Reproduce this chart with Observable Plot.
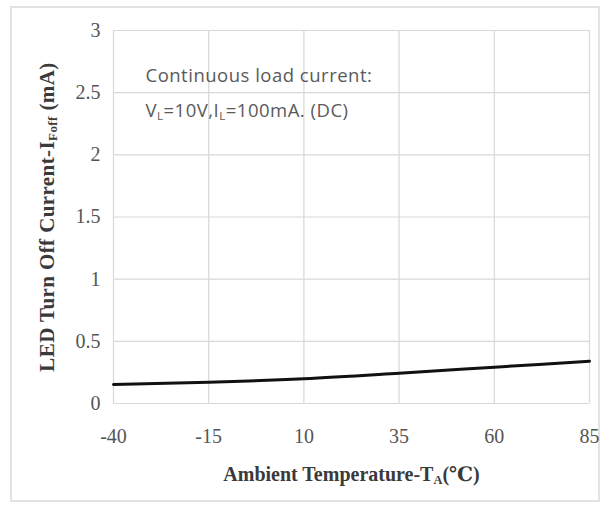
<!DOCTYPE html>
<html>
<head>
<meta charset="utf-8">
<script src="https://cdn.jsdelivr.net/npm/d3@7"></script>
<script src="https://cdn.jsdelivr.net/npm/@observablehq/plot@0.6"></script>
<style>
  html, body { margin: 0; padding: 0; background: #fff; }
  #wrap { position: relative; width: 609px; height: 515px; }
  #border { position: absolute; left: 10px; top: 6px; width: 586px; height: 492px; border: 2px solid #e3e3e3; box-sizing: content-box; }
  #chart { position: absolute; left: 0; top: 0; }
  g.note text { letter-spacing: 0.5px; }
  g.ylab text { letter-spacing: 0.4px; }
</style>
</head>
<body>
<div id="wrap"><div id="border"></div><div id="chart"></div></div>
<script>
// Data
const temperatures = [-40, -15, 10, 35, 60, 85];
const turnOffCurrent = [0.153, 0.171, 0.200, 0.244, 0.292, 0.340];
const xTicks = [-40, -15, 10, 35, 60, 85];
const yTicks = [0, 0.5, 1, 1.5, 2, 2.5, 3];
const noteLines = ["Continuous load current:", "V_L=10V,I_L=100mA. (DC)"];
const noteX = [-31.6, -31.6];
const noteY = [2.63, 2.35];
const xLabel = "Ambient Temperature-T_A(℃)";
const yLabel = "LED Turn Off Current-I_Foff (mA)";

const data = temperatures.map((t, i) => ({t, v: turnOffCurrent[i]}));
const notes = noteLines.map((s, i) => ({s, x: noteX[i], y: noteY[i]}));

const serif = "'Liberation Serif', 'DejaVu Serif', serif";
const sans = "'Open Sans', 'Noto Sans', sans-serif";

const plot = Plot.plot({
  width: 609,
  height: 515,
  marginLeft: 113,
  marginRight: 20,
  marginTop: 30,
  marginBottom: 112,
  style: {background: "transparent", fontFamily: serif, fontSize: "20px", color: "#555"},
  x: {domain: [-40, 85], ticks: xTicks, tickSize: 0, tickPadding: 25, label: null, tickFormat: d => String(d)},
  y: {domain: [0, 3], ticks: yTicks, tickSize: 0, tickPadding: 13, label: null, tickFormat: d => String(d)},
  marks: [
    Plot.ruleX(xTicks, {stroke: "#d8d8d8", strokeWidth: 1.2}),
    Plot.ruleY(yTicks, {stroke: "#d8d8d8", strokeWidth: 1.2}),
    Plot.axisX({ticks: xTicks, tickSize: 0, tickPadding: 25, fontSize: 20, fill: "#555", label: null, tickFormat: d => String(d)}),
    Plot.axisY({ticks: yTicks, tickSize: 0, tickPadding: 13, fontSize: 20, fill: "#555", label: null, tickFormat: d => String(d)}),
    Plot.line(data, {x: "t", y: "v", stroke: "#111", strokeWidth: 3, curve: "monotone-x"}),
    Plot.text(notes, {x: "x", y: "y", text: "s", textAnchor: "start", fontFamily: sans, fontSize: 18.5, fill: "#5a5a5a", className: "note"}),
    Plot.text([xLabel], {frameAnchor: "bottom", dy: 77, textAnchor: "middle", fontFamily: serif, fontSize: 20, fontWeight: "bold", fill: "#3a3a3a", className: "xlab"}),
    Plot.text([yLabel], {frameAnchor: "left", dx: -66, textAnchor: "middle", rotate: -90, fontFamily: serif, fontSize: 21, fontWeight: "bold", fill: "#3a3a3a", className: "ylab"})
  ]
});

// Turn "_X" parts into subscripts
function subscriptify(textEl) {
  const sel = d3.select(textEl);
  const str = sel.text();
  const parts = str.split(/(_[A-Za-z]+)/);
  sel.text(null);
  for (const p of parts) {
    if (!p) continue;
    if (p.startsWith("_")) {
      sel.append("tspan").attr("baseline-shift", "-25%").attr("font-size", "62%").text(p.slice(1));
    } else {
      sel.append("tspan").text(p);
    }
  }
}
d3.select(plot).selectAll("g.note text, g.xlab text, g.ylab text").each(function() { subscriptify(this); });

document.getElementById("chart").appendChild(plot);
</script>
</body>
</html>
